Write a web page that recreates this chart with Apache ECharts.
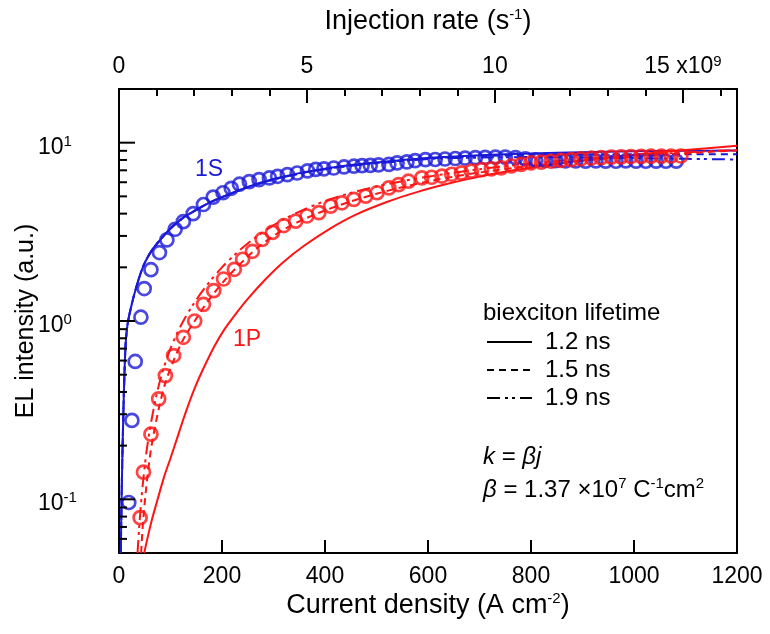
<!DOCTYPE html>
<html>
<head>
<meta charset="utf-8">
<script src="https://cdn.jsdelivr.net/npm/echarts@6/dist/echarts.min.js"></script>
<style>
  html, body { margin: 0; padding: 0; background: #fff; }
  #chart { width: 770px; height: 634px; }
</style>
</head>
<body>
<div id="chart"></div>
<script>
// Current density j (A cm^-2) and EL intensity (a.u.) of the 1S and 1P bands.
const jBlueObs = [19, 25, 31.5, 42.5, 49, 62, 78.5, 93, 109, 125, 144, 164, 183, 202, 218, 234, 253, 272, 292, 308,
  327, 346, 366, 382, 398, 417, 437, 456, 472, 488, 504, 524, 540, 559, 575, 595, 614, 633, 653, 672,
  692, 711, 731, 750, 770, 789, 809, 828, 848, 867, 887, 906, 926, 945, 965, 984, 1004, 1023, 1043, 1062, 1082];
const elBlueObs = [0.096, 0.277, 0.593, 1.05, 1.52, 1.94, 2.42, 2.85, 3.27, 3.61, 4.0, 4.5, 4.95, 5.24, 5.55, 5.85, 6.05, 6.21, 6.34, 6.48,
  6.62, 6.76, 6.95, 7.08, 7.13, 7.21, 7.31, 7.38, 7.44, 7.46, 7.5, 7.56, 7.7, 7.8, 7.93, 8.03, 8.05, 8.1, 8.15, 8.2,
  8.25, 8.28, 8.3, 8.3, 8.25, 8.12, 8.0, 7.95, 7.92, 7.9, 7.9, 7.88, 7.9, 7.88, 7.87, 7.9, 7.88, 7.87, 7.88, 7.87, 7.88];

const jRedObs = [41, 47.5, 62, 77, 90, 106, 125, 147, 164, 184, 203, 224, 240, 259, 278, 298, 320, 343, 365, 388,
  411, 433, 456, 479, 501, 524, 543, 562, 588, 607, 627, 646, 665, 684, 704, 723, 742, 762, 781, 800,
  820, 839, 858, 878, 897, 917, 936, 956, 975, 994, 1014, 1033, 1053, 1072, 1091];
const elRedObs = [0.079, 0.142, 0.232, 0.366, 0.494, 0.64, 0.81, 1.0, 1.24, 1.48, 1.72, 1.95, 2.22, 2.46, 2.87, 3.14, 3.43, 3.63, 3.88, 4.05,
  4.41, 4.6, 4.81, 5.01, 5.24, 5.58, 5.82, 6.08, 6.35, 6.4, 6.5, 6.65, 6.77, 6.92, 7.06, 7.13, 7.22, 7.4, 7.55, 7.7,
  7.78, 7.87, 7.95, 8.03, 8.12, 8.2, 8.25, 8.3, 8.33, 8.36, 8.38, 8.4, 8.4, 8.42, 8.42];

// Model curves for biexciton lifetimes of 1.2, 1.5 and 1.9 ns.
const jBlueFit = [3.5, 5, 7, 9, 11, 13, 16, 20, 25, 30, 40, 50, 65, 80, 100, 125, 150, 175, 200, 250,
  300, 350, 400, 450, 500, 600, 700, 800, 900, 1000, 1100, 1200];
const blueFit12 = [0.05, 0.1, 0.2, 0.35, 0.55, 0.75, 0.93, 1.08, 1.25, 1.42, 1.78, 2.12, 2.52, 2.85, 3.3, 3.8, 4.2, 4.6, 4.95, 5.65,
  6.25, 6.75, 7.15, 7.5, 7.75, 8.2, 8.5, 8.7, 8.85, 8.95, 9.0, 9.05];
const blueFit15 = [0.05, 0.1, 0.2, 0.35, 0.55, 0.75, 0.93, 1.08, 1.25, 1.42, 1.78, 2.12, 2.52, 2.85, 3.3, 3.8, 4.2, 4.6, 4.95, 5.63,
  6.22, 6.72, 7.12, 7.45, 7.7, 8.15, 8.4, 8.55, 8.6, 8.62, 8.62, 8.6];
const blueFit19 = [0.05, 0.1, 0.2, 0.35, 0.55, 0.75, 0.93, 1.08, 1.25, 1.42, 1.78, 2.12, 2.52, 2.85, 3.3, 3.8, 4.2, 4.6, 4.95, 5.62,
  6.2, 6.7, 7.1, 7.42, 7.65, 8.1, 8.25, 8.3, 8.25, 8.2, 8.12, 8.05];

const jRedFit12 = [49, 55, 64, 75, 88, 100, 115, 130, 147, 165, 185, 205, 225, 250, 285, 320, 360, 410, 460, 520,
  580, 640, 700, 760, 820, 900, 1000, 1100, 1200];
const redFit12 = [0.05, 0.06, 0.077, 0.1, 0.135, 0.17, 0.23, 0.31, 0.42, 0.55, 0.72, 0.9, 1.08, 1.33, 1.72, 2.15, 2.65, 3.3, 3.95, 4.65,
  5.3, 5.9, 6.45, 6.95, 7.4, 7.95, 8.55, 9.1, 9.6];
const jRedFit15 = [43, 46, 52, 62, 77, 90, 106, 125, 147, 165, 185, 205, 225, 250, 275, 300, 325, 350, 375, 400,
  450, 500, 550, 600, 650, 700, 800, 900, 1000, 1100, 1200];
const redFit15 = [0.05, 0.07, 0.11, 0.19, 0.32, 0.45, 0.6, 0.79, 1.0, 1.2, 1.44, 1.69, 1.95, 2.3, 2.66, 3.0, 3.32, 3.62, 3.9, 4.17,
  4.68, 5.17, 5.63, 6.06, 6.45, 6.8, 7.42, 7.93, 8.36, 8.72, 9.05];
const jRedFit19 = [36, 40, 46, 55, 68, 82, 100, 120, 145, 170, 200, 230, 260, 290, 320, 360, 400, 450, 500, 550,
  600, 700, 800, 900, 1000, 1100, 1200];
const redFit19 = [0.05, 0.075, 0.12, 0.2, 0.33, 0.49, 0.7, 0.94, 1.25, 1.58, 2.0, 2.43, 2.87, 3.3, 3.72, 4.23, 4.7, 5.22, 5.68, 6.08,
  6.45, 7.1, 7.65, 8.1, 8.48, 8.82, 9.12];

// Axis ranges and tick values
const jMax = 1200;
const beta = 1.37e7;                 // injection rate per current density, C^-1 cm^2
const kMaxGiga = jMax * beta / 1e9;  // top axis in units of 1e9 s^-1
const yMin = 0.05, yMax = 20;
const yMajorTicks = [0.1, 1, 10];
const yMinorTicks = [0.06, 0.07, 0.08, 0.09, 0.2, 0.3, 0.4, 0.5, 0.6, 0.7, 0.8, 0.9, 2, 3, 4, 5, 6, 7, 8, 9];

const FONT = '"Liberation Sans", Arial, Helvetica, sans-serif';
const BLUE = '#1a1ad8';
const RED = '#ff1414';
const DASH = [7, 5];
const DASH_DOT = [13, 5, 3, 4, 3, 5];

const zip = (xs, ys) => xs.map((x, i) => [x, ys[i]]);
const supStyle = { fontSize: 15, fontFamily: FONT, color: '#000', verticalAlign: 'top', lineHeight: 15 };

function fitLine(name, xs, ys, color, dash) {
  return {
    name, type: 'line', data: zip(xs, ys), showSymbol: false, smooth: 0.3,
    lineStyle: { color, width: 2, type: dash || 'solid' }, silent: true, z: 2
  };
}
function obsScatter(name, xs, ys, color) {
  return {
    name, type: 'scatter', data: zip(xs, ys), symbol: 'circle', symbolSize: 13,
    itemStyle: { color: 'rgba(0,0,0,0)', borderColor: color, borderWidth: 2.7 }, silent: true, z: 3
  };
}

const chart = echarts.init(document.getElementById('chart'), null, { renderer: 'canvas' });

const option = {
  animation: false,
  backgroundColor: '#fff',
  textStyle: { fontFamily: FONT },
  grid: {
    left: 119, right: 33, top: 89, bottom: 81, containLabel: false, outerBoundsMode: 'none',
    show: true, borderColor: '#000', borderWidth: 2, backgroundColor: 'transparent'
  },
  xAxis: [
    {
      type: 'value', position: 'bottom', min: 0, max: jMax, interval: 200,
      axisLine: { show: true, lineStyle: { color: '#000', width: 2 } },
      axisTick: { show: true, inside: true, length: 13, lineStyle: { color: '#000', width: 2 } },
      axisLabel: { margin: 12, fontSize: 23, color: '#000', fontFamily: FONT, formatter: v => String(v) },
      splitLine: { show: false },
      name: 'Current density (A cm{sup|-2})', nameLocation: 'middle', nameGap: 38, nameMoveOverlap: false,
      nameTextStyle: { fontSize: 27, color: '#000', fontFamily: FONT, lineHeight: 30, rich: { sup: supStyle } }
    },
    {
      type: 'value', position: 'top', min: 0, max: kMaxGiga, interval: 5,
      axisLine: { show: true, lineStyle: { color: '#000', width: 2 } },
      axisTick: { show: true, inside: true, length: 14, lineStyle: { color: '#000', width: 2 } },
      axisLabel: {
        margin: 9, fontSize: 23, color: '#000', fontFamily: FONT, lineHeight: 26,
        formatter: v => {
          if (Math.abs(v / 5 - Math.round(v / 5)) > 1e-6) return '';
          return v === 15 ? '15 x10{sup|9}' : String(v);
        },
        rich: { sup: supStyle }
      },
      splitLine: { show: false },
      name: 'Injection rate (s{sup|-1})', nameLocation: 'middle', nameGap: 52, nameMoveOverlap: false,
      nameTextStyle: { fontSize: 27, color: '#000', fontFamily: FONT, lineHeight: 30, rich: { sup: supStyle } }
    },
    {
      type: 'value', position: 'top', min: 0, max: kMaxGiga, interval: 1,
      axisLine: { show: false },
      axisTick: { show: true, inside: true, length: 7, lineStyle: { color: '#000', width: 2 } },
      axisLabel: { show: false },
      splitLine: { show: false }
    }
  ],
  yAxis: {
    type: 'log', logBase: 10, min: yMin, max: yMax,
    axisLine: { show: true, lineStyle: { color: '#000', width: 2 } },
    axisTick: { show: false },
    minorTick: { show: false },
    splitLine: { show: false },
    axisLabel: {
      align: 'left', margin: 81, fontSize: 23, color: '#000', fontFamily: FONT, lineHeight: 26,
      padding: [9, 0, 0, 0],
      formatter: v => {
        const e = Math.round(Math.log10(v));
        if (Math.abs(Math.log10(v) - e) > 1e-6) return '';
        return '10{sup|' + e + '}';
      },
      rich: { sup: supStyle }
    },
    name: 'EL intensity (a.u.)', nameLocation: 'middle', nameGap: 80, nameRotate: 90, nameMoveOverlap: false,
    nameTextStyle: { fontSize: 25, color: '#000', fontFamily: FONT }
  },
  series: [
    {
      name: 'y ticks', type: 'custom', xAxisIndex: 0, yAxisIndex: 0, silent: true, z: 5,
      data: yMajorTicks.map(v => [0, v, 1]).concat(yMinorTicks.map(v => [0, v, 0])),
      renderItem: (params, api) => {
        const p = api.coord([api.value(0), api.value(1)]);
        const len = api.value(2) ? 16 : 8;
        return { type: 'line', shape: { x1: p[0], y1: p[1], x2: p[0] + len, y2: p[1] }, style: { stroke: '#000', lineWidth: 2 } };
      }
    },
    fitLine('1S 1.2 ns', jBlueFit, blueFit12, BLUE),
    fitLine('1S 1.5 ns', jBlueFit, blueFit15, BLUE, DASH),
    fitLine('1S 1.9 ns', jBlueFit, blueFit19, BLUE, DASH_DOT),
    obsScatter('1S', jBlueObs, elBlueObs, BLUE),
    fitLine('1P 1.2 ns', jRedFit12, redFit12, RED),
    fitLine('1P 1.5 ns', jRedFit15, redFit15, RED, DASH),
    fitLine('1P 1.9 ns', jRedFit19, redFit19, RED, DASH_DOT),
    obsScatter('1P', jRedObs, elRedObs, RED)
  ],
  graphic: [
    { type: 'text', x: 195, y: 170, style: { text: '1S', fontSize: 23, fontFamily: FONT, fill: BLUE, verticalAlign: 'middle' } },
    { type: 'text', x: 233, y: 340, style: { text: '1P', fontSize: 23, fontFamily: FONT, fill: RED, verticalAlign: 'middle' } },
    { type: 'text', x: 483, y: 313, style: { text: 'biexciton lifetime', fontSize: 24, fontFamily: FONT, fill: '#000', verticalAlign: 'middle' } },
    { type: 'line', shape: { x1: 487, y1: 342, x2: 532, y2: 342 }, style: { stroke: '#000', lineWidth: 2 } },
    { type: 'line', shape: { x1: 487, y1: 370, x2: 532, y2: 370 }, style: { stroke: '#000', lineWidth: 2, lineDash: DASH } },
    { type: 'line', shape: { x1: 487, y1: 398, x2: 532, y2: 398 }, style: { stroke: '#000', lineWidth: 2, lineDash: DASH_DOT } },
    { type: 'text', x: 545, y: 342, style: { text: '1.2 ns', fontSize: 24, fontFamily: FONT, fill: '#000', verticalAlign: 'middle' } },
    { type: 'text', x: 545, y: 370, style: { text: '1.5 ns', fontSize: 24, fontFamily: FONT, fill: '#000', verticalAlign: 'middle' } },
    { type: 'text', x: 545, y: 398, style: { text: '1.9 ns', fontSize: 24, fontFamily: FONT, fill: '#000', verticalAlign: 'middle' } },
    {
      type: 'text', x: 483, y: 457,
      style: {
        text: '{i|k} = {i|βj}', fontSize: 24, fontFamily: FONT, fill: '#000', verticalAlign: 'middle',
        rich: { i: { fontSize: 24, fontFamily: FONT, fontStyle: 'italic', fill: '#000' } }
      }
    },
    {
      type: 'text', x: 483, y: 490,
      style: {
        text: '{i|β} = 1.37 ×10{s|7} C{s|-1}cm{s|2}', fontSize: 24, fontFamily: FONT, fill: '#000', verticalAlign: 'middle', lineHeight: 28,
        rich: {
          i: { fontSize: 24, fontFamily: FONT, fontStyle: 'italic', fill: '#000', lineHeight: 28 },
          s: { fontSize: 15, fontFamily: FONT, fill: '#000', verticalAlign: 'top', lineHeight: 15 }
        }
      }
    }
  ]
};

chart.setOption(option);
</script>
</body>
</html>
